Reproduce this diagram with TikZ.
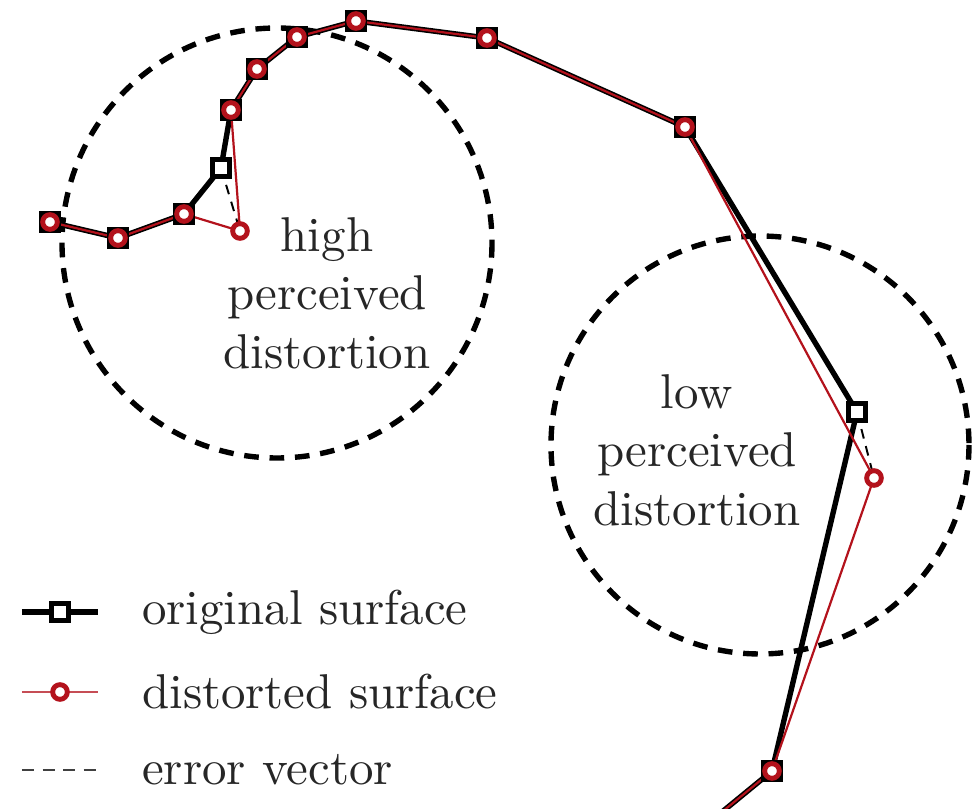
\documentclass[tikz,border=0pt]{standalone}
\usepackage{xcolor}
\usepackage{tikz}
\usetikzlibrary{positioning,calc}
\definecolor{distred}{HTML}{B3121C}
\definecolor{inkgrey}{HTML}{262626}
\tikzset{
  orig/.style={draw=black, line width=1.1pt, line join=round},
  dist/.style={draw=distred, line width=0.45pt, line join=round},
  errv/.style={draw=black, line width=0.4pt, dash pattern=on 2pt off 1.6pt},
  zone/.style={draw=black, line width=1.1pt, dash pattern=on 3pt off 2.2pt},
  sqm/.style={rectangle, draw=black, fill=white, line width=1pt,
              minimum size=3.3pt, inner sep=0pt},
  crm/.style={circle, draw=distred, fill=white, line width=1pt,
              minimum size=3pt, inner sep=0pt},
  txt/.style={align=center, text=inkgrey},
  lgd/.style={anchor=west, text=inkgrey},
}

\begin{document}
\begin{tikzpicture}[x=0.2045pt,y=-0.2045pt]
  \useasboundingbox (0,0) rectangle (979,809);

  % perceptual zones
  \draw[zone] (277,243) circle[radius=215];
  \draw[zone] (760,445) circle[radius=209];
  \node[txt] (hightxt) at (327,293) {high\\perceived\\distortion};
  \node[txt] (lowtxt) at (697,450) {low\\perceived\\distortion};

  % surface vertices
  \coordinate (v1) at (50,222);
  \coordinate (v2) at (118,238);
  \coordinate (v3) at (184,214);
  \coordinate (o4) at (221,168);
  \coordinate (d4) at (240,231);
  \coordinate (v5) at (231,110);
  \coordinate (v6) at (257,69);
  \coordinate (v7) at (297,37);
  \coordinate (v8) at (356,21);
  \coordinate (v9) at (487,38);
  \coordinate (v10) at (685,127);
  \coordinate (o11) at (857,412);
  \coordinate (d11) at (874,478);
  \coordinate (v12) at (772,771);
  \coordinate (v13) at (722,812);

  % original and distorted surface
  \draw[orig] (v1) -- (v2) -- (v3) -- (o4) -- (v5) -- (v6) -- (v7) -- (v8)
    -- (v9) -- (v10) -- (o11) -- (v12) -- (v13);
  \draw[errv] (o4) -- (d4);
  \draw[errv] (o11) -- (d11);
  \draw[dist] (v1) -- (v2) -- (v3) -- (d4) -- (v5) -- (v6) -- (v7) -- (v8)
    -- (v9) -- (v10) -- (d11) -- (v12) -- (v13);

  % markers
  \foreach \p in {v1,v2,v3,o4,v5,v6,v7,v8,v9,v10,o11,v12}
    \node[sqm] (s-\p) at (\p) {};
  \foreach \p in {v1,v2,v3,d4,v5,v6,v7,v8,v9,v10,d11,v12}
    \node[crm] (c-\p) at (\p) {};

  % legend
  \coordinate (la1) at (22,612);
  \coordinate (lb1) at (98,612);
  \coordinate (la2) at (22,692);
  \coordinate (lb2) at (98,692);
  \coordinate (la3) at (22,770);
  \coordinate (lb3) at (98,770);
  \draw[orig] (la1) -- (lb1);
  \node[sqm] (lsq) at ($(la1)!0.5!(lb1)$) {};
  \draw[dist, draw=distred!75] (la2) -- (lb2);
  \node[crm] (lcr) at ($(la2)!0.5!(lb2)$) {};
  \draw[errv, draw=black!75, line width=0.5pt, dash pattern=on 2.5pt off 1.7pt] (la3) -- (lb3);
  \node[lgd] (lg1) at (125,612) {original surface};
  \node[lgd] (lg2) at (125,692) {distorted surface};
  \node[lgd] (lg3) at (125,770) {error vector};
\end{tikzpicture}
\end{document}
